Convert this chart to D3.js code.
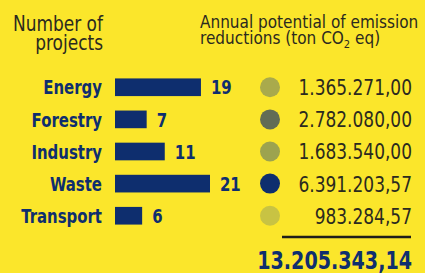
<!DOCTYPE html>
<html>
<head>
<meta charset="utf-8">
<script src="https://cdn.jsdelivr.net/npm/d3@7"></script>
<style>
  html, body { margin: 0; padding: 0; background: #fbe62b; }
  svg { display: block; }
</style>
</head>
<body>
<div id="chart"></div>
<script>
// chart data
const sectors = ["Energy", "Forestry", "Industry", "Waste", "Transport"];
const projects = [19, 7, 11, 21, 6];
const reductions = ["1.365.271,00", "2.782.080,00", "1.683.540,00", "6.391.203,57", "983.284,57"];
const dotColors = ["#a9aa4c", "#626d55", "#9ca34f", "#0e2e6e", "#c8c343"];
const total = "13.205.343,14";

const width = 425;
const height = 273;
const narrow = "'DejaVu Sans Condensed', 'Liberation Sans', sans-serif";
const navy = "#0e2e6e";
const ink = "#2b2a1f";

// squeeze text horizontally around its own x (no condensed font installed)
function squeeze(sel, sx) {
    sel.attr("transform", function () {
        const x0 = +this.getAttribute("x");
        return `translate(${x0},0) scale(${sx},1) translate(${-x0},0)`;
    });
}

const svg = d3.select("#chart")
    .append("svg")
    .attr("width", width)
    .attr("height", height);

svg.append("rect")
    .attr("width", width)
    .attr("height", height)
    .attr("fill", "#fbe62b");

// headers
svg.append("text")
    .attr("x", 103)
    .attr("y", 31)
    .attr("text-anchor", "end")
    .attr("font-family", narrow)
    .attr("font-size", 21)
    .attr("fill", ink)
    .call(t => t.append("tspan").attr("x", 103).text("Number of"))
    .call(t => t.append("tspan").attr("x", 103).attr("dy", 19).text("projects"))
    .call(squeeze, 0.9);

const sub = svg.append("text")
    .attr("x", 200)
    .attr("y", 28)
    .attr("font-family", narrow)
    .attr("font-size", 17)
    .attr("fill", ink);
sub.append("tspan").attr("x", 200).text("Annual potential of emission");
const l2 = sub.append("tspan").attr("x", 200).attr("dy", 16);
l2.append("tspan").text("reductions (ton CO");
l2.append("tspan").attr("font-size", 11).attr("dy", 4).text("2");
l2.append("tspan").attr("dy", -4).text(" eq)");

// scales
const y = d3.scaleBand()
    .domain(sectors)
    .range([72, 231])
    .paddingInner(0.45)
    .paddingOuter(0.2);

const x = d3.scaleLinear()
    .domain([0, 21])
    .range([115, 210]);

const rows = svg.selectAll("g.row")
    .data(sectors)
    .join("g")
    .attr("class", "row");

rows.append("rect")
    .attr("x", x(0))
    .attr("y", d => y(d))
    .attr("width", (d, i) => x(projects[i]) - x(0))
    .attr("height", y.bandwidth())
    .attr("fill", navy);

rows.append("text")
    .attr("x", 102)
    .attr("y", d => y(d) + y.bandwidth() / 2)
    .attr("dy", "0.36em")
    .attr("text-anchor", "end")
    .attr("font-family", narrow)
    .attr("font-weight", "bold")
    .attr("font-size", 20)
    .attr("fill", navy)
    .text(d => d)
    .call(squeeze, 0.83);

rows.append("text")
    .attr("x", (d, i) => x(projects[i]) + 10)
    .attr("y", d => y(d) + y.bandwidth() / 2)
    .attr("dy", "0.36em")
    .attr("font-family", narrow)
    .attr("font-weight", "bold")
    .attr("font-size", 20)
    .attr("fill", navy)
    .text((d, i) => projects[i])
    .call(squeeze, 0.83);

rows.append("circle")
    .attr("cx", 270)
    .attr("cy", d => y(d) + y.bandwidth() / 2)
    .attr("r", 10)
    .attr("fill", (d, i) => dotColors[i]);

rows.append("text")
    .attr("x", 412)
    .attr("y", d => y(d) + y.bandwidth() / 2)
    .attr("dy", "0.36em")
    .attr("text-anchor", "end")
    .attr("font-family", narrow)
    .attr("font-size", 22)
    .attr("fill", ink)
    .text((d, i) => reductions[i])
    .call(squeeze, 0.86);

// total
svg.append("line")
    .attr("x1", 282)
    .attr("x2", 411)
    .attr("y1", 237)
    .attr("y2", 237)
    .attr("stroke", "#1e1e1a")
    .attr("stroke-width", 2.5);

svg.append("text")
    .attr("x", 412)
    .attr("y", 269)
    .attr("text-anchor", "end")
    .attr("font-family", narrow)
    .attr("font-weight", "bold")
    .attr("font-size", 25)
    .attr("fill", navy)
    .text(total)
    .call(squeeze, 0.85);
</script>
</body>
</html>
